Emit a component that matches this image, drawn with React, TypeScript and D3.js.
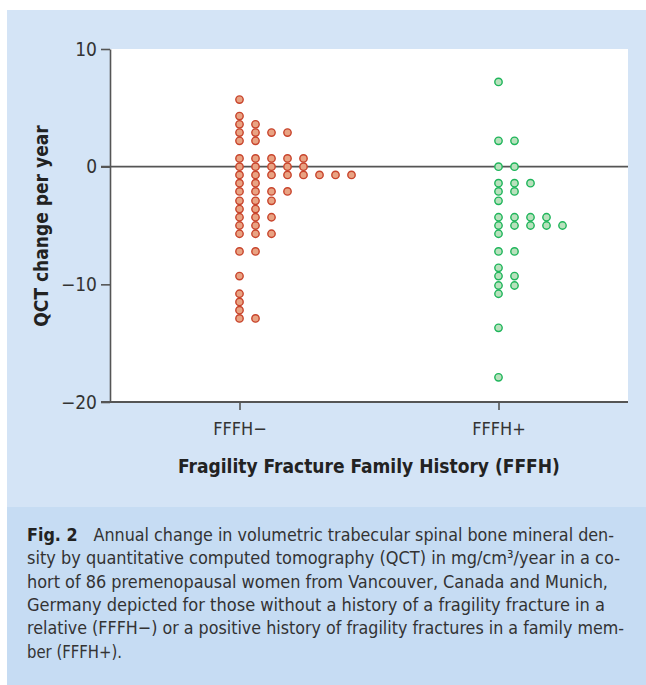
import React, { useRef, useEffect } from 'react';
import * as d3 from 'd3';

const width = 646;
const height = 685;
const margin = { top: 49, right: 18, bottom: 283, left: 110 };

const categories = ['FFFH−', 'FFFH+'];
// QCT change per year, one entry per woman (values binned as in the dot plot)
const fffhNeg = [
  5.7, 4.3, 3.6, 3.6, 2.9, 2.9, 2.9, 2.9, 2.2, 2.2,
  0.7, 0.7, 0.7, 0.7, 0.7, 0, 0, 0, 0, 0,
  -0.7, -0.7, -0.7, -0.7, -0.7, -0.7, -0.7, -0.7,
  -1.4, -1.4, -2.1, -2.1, -2.1, -2.1, -2.9, -2.9, -2.9,
  -3.6, -3.6, -4.3, -4.3, -4.3, -5.0, -5.0, -5.7, -5.7, -5.7,
  -7.2, -7.2, -9.3, -10.8, -11.5, -12.2, -12.9, -12.9,
];
const fffhPos = [
  7.2, 2.2, 2.2, 0, 0, -1.4, -1.4, -1.4, -2.1, -2.1, -2.9,
  -4.3, -4.3, -4.3, -4.3, -5.0, -5.0, -5.0, -5.0, -5.0, -5.7,
  -7.2, -7.2, -8.6, -9.3, -9.3, -10.1, -10.1, -10.8, -13.7, -17.9,
];
const yTicks = [10, 0, -10, -20];
const groups = [fffhNeg, fffhPos];
const fills = ['#e9a383', '#b9e1bd'];
const strokes = ['#c8442c', '#1fb55b'];

const captionLines = [
  'Annual change in volumetric trabecular spinal bone mineral den-',
  'sity by quantitative computed tomography (QCT) in mg/cm³/year in a co-',
  'hort of 86 premenopausal women from Vancouver, Canada and Munich,',
  'Germany depicted for those without a history of a fragility fracture in a',
  'relative (FFFH−) or a positive history of fragility fractures in a family mem-',
  'ber (FFFH+).',
];
// rendered widths of the caption lines in the printed figure
const captionWidths = [587, 593, 581, 578, 597, 95];

const font = "'Liberation Sans Narrow', 'DejaVu Sans Condensed', Roboto, sans-serif";
const axisColor = '#555';
const dotStep = 16;
const dotR = 3.7;

const Chart = () => {
  const ref = useRef<SVGGElement>(null);

  useEffect(() => {
    if (!ref.current) return;
    const g = d3.select(ref.current);
    g.selectAll('*').remove();

    const x = d3.scalePoint<string>()
      .domain(categories)
      .range([margin.left, width - margin.right])
      .padding(0.5);
    const y = d3.scaleLinear()
      .domain([-20, 10])
      .range([height - margin.bottom, margin.top]);

    const x0 = margin.left, x1 = width - margin.right;
    const y0 = height - margin.bottom, y1 = margin.top;

    // plot background
    g.append('rect')
      .attr('x', x0).attr('y', y1)
      .attr('width', x1 - x0).attr('height', y0 - y1)
      .attr('fill', '#fff');

    // zero line
    g.append('line')
      .attr('x1', x0 - 9).attr('x2', x1)
      .attr('y1', y(0)).attr('y2', y(0))
      .attr('stroke', axisColor).attr('stroke-width', 1.6);

    // y axis
    const yAxis = g.append('g')
      .attr('transform', `translate(${x0},0)`)
      .call(d3.axisLeft(y).tickValues(yTicks).tickSize(9).tickSizeOuter(0).tickPadding(4));
    yAxis.select('.domain').attr('stroke', axisColor).attr('stroke-width', 1.6);
    yAxis.selectAll('.tick line').attr('stroke', axisColor).attr('stroke-width', 1.6);
    yAxis.selectAll('.tick text')
      .attr('font-family', font).attr('font-size', 19).attr('fill', '#333');

    // x axis
    const xAxis = g.append('g')
      .attr('transform', `translate(0,${y0})`)
      .call(d3.axisBottom(x).tickSize(8).tickSizeOuter(0).tickPadding(12));
    xAxis.select('.domain').attr('stroke', axisColor).attr('stroke-width', 2)
      .attr('d', `M${x0 - 9},0H${x1}`);
    xAxis.selectAll('.tick line').attr('stroke', axisColor).attr('stroke-width', 1.6);
    xAxis.selectAll('.tick text')
      .attr('font-family', font).attr('font-size', 18).attr('fill', '#333');

    // dots: values sharing a bin are stacked to the right of the category
    groups.forEach((vals, gi) => {
      const seen = new Map<number, number>();
      const pts = vals.map(v => {
        const col = seen.get(v) ?? 0;
        seen.set(v, col + 1);
        return { v, col };
      });
      g.append('g').selectAll('circle').data(pts).join('circle')
        .attr('cx', d => (x(categories[gi]) as number) + d.col * dotStep)
        .attr('cy', d => y(d.v))
        .attr('r', dotR)
        .attr('fill', fills[gi])
        .attr('stroke', strokes[gi])
        .attr('stroke-width', 1.4);
    });
  }, []);

  return (
    <svg width={width} height={height}
      style={{ position: 'absolute', left: 0, top: 0, display: 'block', background: '#fff' }}>
      <rect x={7} y={10} width={width - 7} height={497} fill="#d4e4f6" />
      <rect x={7} y={507} width={width - 7} height={height - 507} fill="#c6dcf3" />
      <g ref={ref} />
      <text transform="translate(48,226) rotate(-90)" textAnchor="middle"
        fontFamily={font} fontWeight="bold" fontSize={19} fill="#222">
        QCT change per year
      </text>
      <text x={369} y={473} textAnchor="middle"
        fontFamily={font} fontWeight="bold" fontSize={19} fill="#222">
        Fragility Fracture Family History (FFFH)
      </text>
      <g fontFamily={font} fontSize={18} fill="#333">
        {captionLines.map((line, i) => (
          <text key={i} x={27} y={541 + i * 23.3}
            textLength={captionWidths[i]} lengthAdjust="spacingAndGlyphs">
            {i === 0 && <tspan fontWeight="bold" fill="#222">Fig. 2{'\u2003'}</tspan>}
            {line}
          </text>
        ))}
      </g>
    </svg>
  );
};

export default function App() {
  return <Chart />;
}
